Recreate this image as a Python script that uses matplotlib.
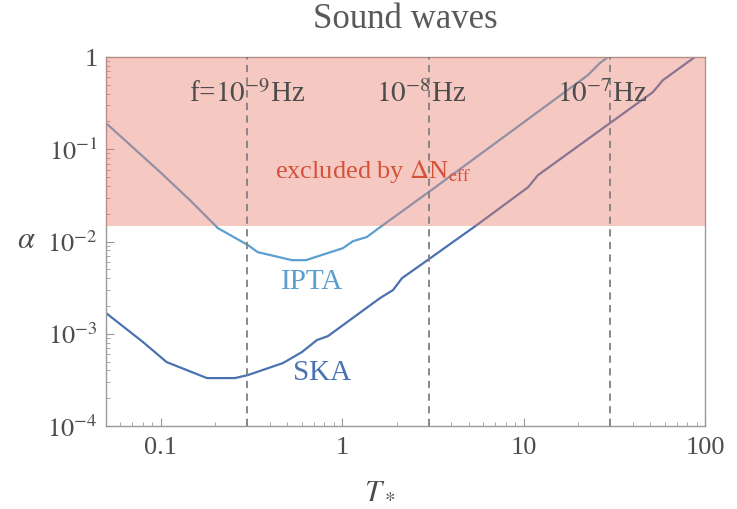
import numpy as np
import matplotlib
matplotlib.use("Agg")
import matplotlib.pyplot as plt
from matplotlib.ticker import FixedLocator, NullFormatter

plt.rcParams['font.family'] = ['Liberation Serif', 'DejaVu Serif']
plt.rcParams['mathtext.fontset'] = 'stix'

# IPTA sensitivity curve
ipta_T = [0.05, 0.1, 0.145, 0.207, 0.303, 0.343, 0.529, 0.632, 1.01, 1.15, 1.37, 1.62, 3.01, 22.6, 26.3, 29.2]
ipta_a = [0.192, 0.056, 0.0281, 0.01396, 0.00914, 0.00767, 0.00628, 0.00628, 0.00847, 0.0101, 0.0112,
          0.0143, 0.0345, 0.635, 0.857, 1.0]

# SKA sensitivity curve
ska_T = [0.05, 0.08, 0.108, 0.180, 0.257, 0.303, 0.472, 0.601, 0.727, 0.836, 1.62, 1.91, 2.14,
         3.01, 5.53, 10.6, 12.0, 51.6, 58.6, 88.0]
ska_a = [0.00168, 0.000813, 0.000493, 0.000331, 0.000331, 0.000357, 0.000481, 0.000634, 0.000855,
         0.000944, 0.00244, 0.00298, 0.00401, 0.00644, 0.0151, 0.0388, 0.0524, 0.416, 0.561, 1.0]

neff_limit = 0.0148
freq_T = [0.3, 3, 30]
freq_labels = [r'f=$10^{-9}$Hz', r'$10^{-8}$Hz', r'$10^{-7}$Hz']
freq_shift = [0, -8, -8]

xticks = [0.1, 1, 10, 100]
xticklabels = ['0.1', '1', '10', '100']
yticks = [1e-4, 1e-3, 1e-2, 1e-1, 1]
yticklabels = [r'$10^{-4}$', r'$10^{-3}$', r'$10^{-2}$', r'$10^{-1}$', '1']

fig = plt.figure(figsize=(7.37, 5.09), dpi=100)
ax = fig.add_axes([0.1438, 0.163, 0.8128, 0.725])

ax.set_xscale('log')
ax.set_yscale('log')
ax.set_xlim(0.05, 100)
ax.set_ylim(1e-4, 1)

ax.plot(ipta_T, ipta_a, color='#5b9fcf', lw=1.6, zorder=2)
ax.plot(ska_T, ska_a, color='#4a72b0', lw=1.6, zorder=2)

# excluded region drawn over the curves
ax.axhspan(neff_limit, 1, color=(232/255, 120/255, 102/255), alpha=0.4, lw=0, zorder=3)

for t, lab, dx in zip(freq_T, freq_labels, freq_shift):
    ax.axvline(t, color='#808080', lw=1.3, ls=(0, (4, 3)), zorder=4)
    ax.annotate(lab, (t, 0.40), xytext=(dx, 0), textcoords='offset pixels',
                ha='center', va='center', fontsize=21, color='#4d4d4d', zorder=5)

ax.text(1.48, 0.058, r'excluded by $\Delta$N$_{\rm eff}$', ha='center', va='center',
        fontsize=19, color='#d4513a', zorder=5)
ax.text(0.68, 0.0036, 'IPTA', ha='center', va='center', fontsize=21, color='#5b9fcf')
ax.text(0.78, 0.00038, 'SKA', ha='center', va='center', fontsize=21, color='#4a72b0')

fig.text(405/737, 1 - 20/509, 'Sound waves', fontsize=25, color='#5a5a5a', ha='center', va='center')
fig.text(380/737, 1 - 490/509, r'$T_*$', fontsize=22, color='#4d4d4d', ha='center', va='center')
fig.text(26/737, 1 - 240/509, r'$\alpha$', fontsize=22, color='#4d4d4d', ha='center', va='center')

ax.xaxis.set_major_locator(FixedLocator(xticks))
ax.set_xticklabels(xticklabels)
ax.yaxis.set_major_locator(FixedLocator(yticks))
ax.set_yticklabels(yticklabels)
ax.xaxis.set_minor_formatter(NullFormatter())
ax.yaxis.set_minor_formatter(NullFormatter())

ax.tick_params(which='both', direction='in', colors='#999999', labelcolor='#4d4d4d',
               labelsize=19, top=False, right=False)
ax.tick_params(axis='y', pad=6)
ax.tick_params(axis='x', pad=8)
ax.tick_params(which='major', length=6, width=0.8)
ax.tick_params(which='minor', length=3, width=0.6)
for s in ax.spines.values():
    s.set_color('#9a9a9a')
    s.set_linewidth(1.0)

fig.savefig('out.png', dpi=100)
